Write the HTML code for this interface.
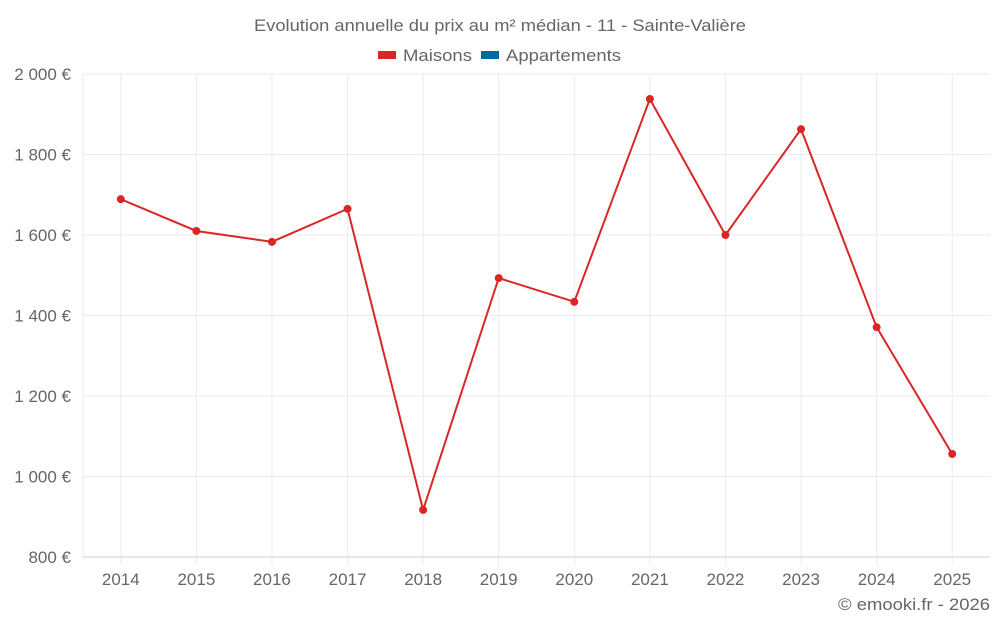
<!DOCTYPE html>
<html><head><meta charset="utf-8">
<style>
body{margin:0;background:#fff;font-family:"Liberation Sans",sans-serif;}
svg{display:block}
text{fill:#666;font-family:"Liberation Sans",sans-serif;}
</style></head>
<body>
<svg id="chart" width="1000" height="625">
<text x="254" y="31" font-size="17" textLength="492" lengthAdjust="spacingAndGlyphs">Evolution annuelle du prix au m² médian - 11 - Sainte-Valière</text>
<g>
<g><rect x="378" y="51" width="18" height="8" fill="#dc2626"/><text x="403" y="61" font-size="17" textLength="69" lengthAdjust="spacingAndGlyphs">Maisons</text></g>
<g><rect x="481" y="51" width="18" height="8" fill="#0369a1"/><text x="506" y="61" font-size="17" textLength="115" lengthAdjust="spacingAndGlyphs">Appartements</text></g>
</g>
<g id="grid"></g>
<g id="axes"></g>
<g id="series"></g>
<text x="838" y="610" font-size="17" textLength="152" lengthAdjust="spacingAndGlyphs">© emooki.fr - 2026</text>
</svg>
<script>
const categories=["2014","2015","2016","2017","2018","2019","2020","2021","2022","2023","2024","2025"];
const maisons=[1689,1610,1583,1665,917,1493,1434,1938,1600,1863,1371,1056];
const yTicks=[800,1000,1200,1400,1600,1800,2000];
const yTickLabels=["800 €","1 000 €","1 200 €","1 400 €","1 600 €","1 800 €","2 000 €"];
const L=83,R=990,T=74,B=557,yMin=800,yMax=2000;
const band=(R-L)/categories.length;
const x=i=>L+band*(i+0.5);
const y=v=>B-(v-yMin)/(yMax-yMin)*(B-T);
const NS="http://www.w3.org/2000/svg";
function mk(tag,attrs,parent){const e=document.createElementNS(NS,tag);for(const k in attrs)e.setAttribute(k,attrs[k]);parent.appendChild(e);return e;}
const grid=document.getElementById('grid'),axes=document.getElementById('axes'),series=document.getElementById('series');
yTicks.forEach((v,i)=>{
 const l=mk('line',{x1:L,x2:R,y1:y(v),y2:y(v),stroke:i==0?'#ccc':'#ebebeb','stroke-width':1},grid);
 
 
 const t=mk('text',{x:L-12,y:y(v)+6,'text-anchor':'end','font-size':17},axes);
 t.textContent=yTickLabels[i];
 
 
});
mk('line',{x1:L,x2:L,y1:T,y2:B,stroke:'#ebebeb'},grid);
categories.forEach((c,i)=>{
 const g=mk('line',{x1:x(i),x2:x(i),y1:T,y2:B+8,stroke:'#ebebeb'},grid);
 
 
 const t=mk('text',{x:x(i),y:585,'text-anchor':'middle','font-size':17},axes);
 t.textContent=c;
 
 
});
const p=mk('polyline',{points:maisons.map((v,i)=>x(i)+','+y(v)).join(' '),fill:'none',stroke:'#dc2626','stroke-width':2},series);


maisons.forEach((v,i)=>{
 const c=mk('circle',{cx:x(i),cy:y(v),r:4,fill:'#dc2626'},series);
 
 
});
</script>
</body></html>
